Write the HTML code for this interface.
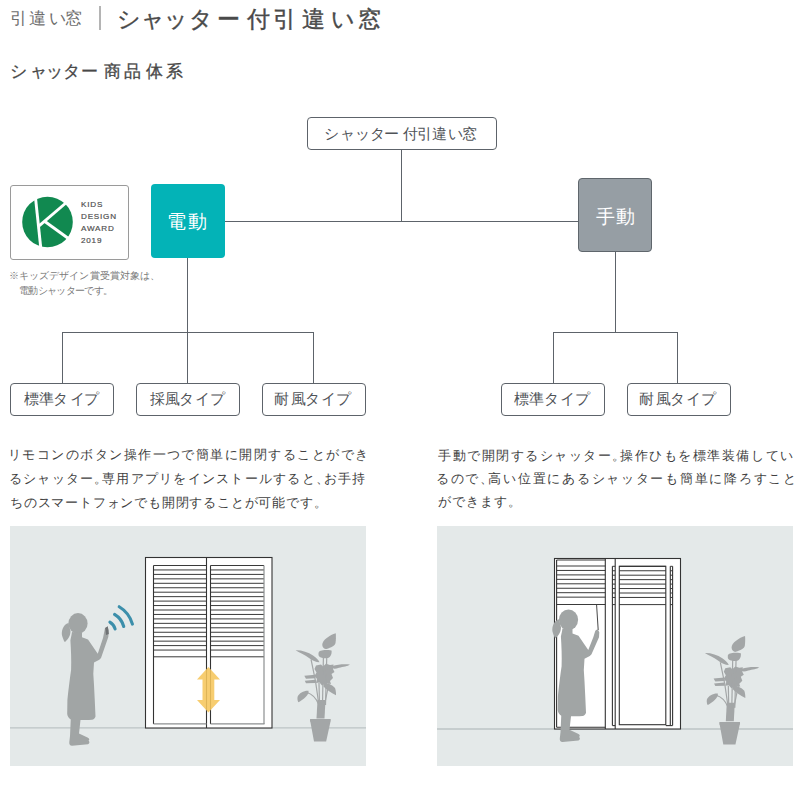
<!DOCTYPE html>
<html><head><meta charset="utf-8">
<style>
html,body{margin:0;padding:0;background:#fff;}
body{width:800px;height:800px;position:relative;overflow:hidden;font-family:"Liberation Sans",sans-serif;color:#4a4a4a;}
.a{position:absolute;white-space:nowrap;line-height:1;}
.box{position:absolute;box-sizing:border-box;border:1.3px solid #5d636a;border-radius:4px;background:#fff;}
.ln{position:absolute;background:#5d636a;}
.lb{position:absolute;left:0;line-height:1;color:#4f5358;white-space:nowrap;}
.lbl{position:absolute;font-size:15px;line-height:1;color:#4f5358;white-space:nowrap;}
.nt{position:absolute;font-size:9.5px;line-height:1;color:#7a7a7a;white-space:nowrap;}
.pl{position:absolute;font-size:13px;line-height:1;color:#3f3f3f;white-space:nowrap;}
.para{position:absolute;font-size:14px;line-height:24px;color:#4a4a4a;white-space:nowrap;}
</style></head>
<body>
<!-- header -->
<div id="h1" style="position:absolute;left:0;top:9.5px;font-size:17px;line-height:1;color:#6e6e6e;"><span style="position:absolute;left:9.6px">引</span><span style="position:absolute;left:29.4px">違</span><span style="position:absolute;left:49.0px">い</span><span style="position:absolute;left:64.6px">窓</span></div>
<div class="ln" style="left:99px;top:6px;width:1.8px;height:24px;background:#b4b4b4;"></div>
<div id="h2" style="position:absolute;left:0;top:9.3px;font-size:22.5px;line-height:1;color:#4a4a4a;-webkit-text-stroke:0.4px #4a4a4a;"><span style="position:absolute;left:117.4px">シ</span><span style="position:absolute;left:140.9px">ャ</span><span style="position:absolute;left:163.5px">ッ</span><span style="position:absolute;left:189.0px">タ</span><span style="position:absolute;left:217.0px">ー</span><span style="position:absolute;left:246.8px">付</span><span style="position:absolute;left:272.8px">引</span><span style="position:absolute;left:301.8px">違</span><span style="position:absolute;left:330.5px">い</span><span style="position:absolute;left:357.8px">窓</span></div>
<div id="h3" style="position:absolute;left:0;top:63px;font-size:17px;line-height:1;color:#484848;-webkit-text-stroke:0.3px #484848;"><span style="position:absolute;left:9.9px">シ</span><span style="position:absolute;left:29.9px">ャ</span><span style="position:absolute;left:46.4px">ッ</span><span style="position:absolute;left:63.0px">タ</span><span style="position:absolute;left:80.9px">ー</span><span style="position:absolute;left:104.4px">商</span><span style="position:absolute;left:124.0px">品</span><span style="position:absolute;left:145.6px">体</span><span style="position:absolute;left:165.6px">系</span></div>

<!-- chart lines -->
<div class="ln" style="left:401px;top:149px;width:1.2px;height:73px;"></div>
<div class="ln" style="left:225px;top:220.6px;width:353px;height:1.2px;"></div>
<div class="ln" style="left:187px;top:258px;width:1.2px;height:125px;"></div>
<div class="ln" style="left:62px;top:332px;width:252px;height:1.2px;"></div>
<div class="ln" style="left:62px;top:332px;width:1.2px;height:51px;"></div>
<div class="ln" style="left:313px;top:332px;width:1.2px;height:51px;"></div>
<div class="ln" style="left:615px;top:252px;width:1.2px;height:81px;"></div>
<div class="ln" style="left:552.5px;top:332px;width:125.5px;height:1.2px;"></div>
<div class="ln" style="left:552.5px;top:332px;width:1.2px;height:51px;"></div>
<div class="ln" style="left:677px;top:332px;width:1.2px;height:51px;"></div>

<!-- top box -->
<div class="box" style="left:306.5px;top:116.5px;width:190.5px;height:33px;"></div>

<!-- electric -->
<div style="position:absolute;left:151px;top:184px;width:74px;height:74px;border-radius:4px;background:#03b3b7;"></div>
<!-- manual -->
<div style="position:absolute;box-sizing:border-box;left:578px;top:178px;width:74px;height:74px;border-radius:4px;background:#969ea4;border:1.2px solid #5f666c;"></div>

<!-- bottom boxes -->
<div class="box" style="left:10px;top:382.5px;width:104px;height:33px;"></div>
<div class="box" style="left:135.5px;top:382.5px;width:104px;height:33px;"></div>
<div class="box" style="left:261.5px;top:382.5px;width:104px;height:33px;"></div>
<div class="box" style="left:500.5px;top:382.5px;width:104px;height:33px;"></div>
<div class="box" style="left:626.5px;top:382.5px;width:104px;height:33px;"></div>

<div class="lb" style="top:126.5px;font-size:14.5px"><span style="position:absolute;left:324.0px">シ</span><span style="position:absolute;left:339.5px">ャ</span><span style="position:absolute;left:354.5px">ッ</span><span style="position:absolute;left:369.5px">タ</span><span style="position:absolute;left:383.5px">ー</span><span style="position:absolute;left:402.5px">付</span><span style="position:absolute;left:417.0px">引</span><span style="position:absolute;left:432.0px">違</span><span style="position:absolute;left:448.0px">い</span><span style="position:absolute;left:462.0px">窓</span></div>
<div class="lb" style="top:391.3px;font-size:15px"><span style="position:absolute;left:23.9px">標</span><span style="position:absolute;left:39.1px">準</span><span style="position:absolute;left:53.4px">タ</span><span style="position:absolute;left:69.8px">イ</span><span style="position:absolute;left:84.2px">プ</span></div>
<div class="lb" style="top:391.3px;font-size:15px"><span style="position:absolute;left:149.5px">採</span><span style="position:absolute;left:164.7px">風</span><span style="position:absolute;left:179.0px">タ</span><span style="position:absolute;left:195.3px">イ</span><span style="position:absolute;left:209.8px">プ</span></div>
<div class="lb" style="top:391.3px;font-size:15px"><span style="position:absolute;left:274.3px">耐</span><span style="position:absolute;left:290.5px">風</span><span style="position:absolute;left:304.8px">タ</span><span style="position:absolute;left:321.1px">イ</span><span style="position:absolute;left:335.6px">プ</span></div>
<div class="lb" style="top:391.3px;font-size:15px"><span style="position:absolute;left:514.2px">標</span><span style="position:absolute;left:529.4px">準</span><span style="position:absolute;left:543.7px">タ</span><span style="position:absolute;left:560.0px">イ</span><span style="position:absolute;left:574.5px">プ</span></div>
<div class="lb" style="top:391.3px;font-size:15px"><span style="position:absolute;left:639.4px">耐</span><span style="position:absolute;left:655.6px">風</span><span style="position:absolute;left:669.9px">タ</span><span style="position:absolute;left:686.2px">イ</span><span style="position:absolute;left:700.8px">プ</span></div>
<div class="lb" style="top:212.6px;font-size:18.5px;color:#fff"><span style="position:absolute;left:166.9px">電</span><span style="position:absolute;left:187.8px">動</span></div>
<div class="lb" style="top:207.9px;font-size:18.5px;color:#fff"><span style="position:absolute;left:595.8px">手</span><span style="position:absolute;left:615.8px">動</span></div>
<!-- award -->
<div style="position:absolute;box-sizing:border-box;left:9.5px;top:185px;width:119px;height:74.5px;border:1px solid #9a9a9a;border-radius:3px;"></div>
<svg style="position:absolute;left:0;top:0" width="140" height="270" viewBox="0 0 140 270">
<circle cx="47.5" cy="222" r="25.3" fill="#118950"/>
<g stroke="#fff" stroke-width="2.9" fill="none">
<line x1="34.9" y1="192" x2="41.2" y2="252"/>
<line x1="38.5" y1="226.4" x2="74" y2="196"/>
<line x1="44.5" y1="221.2" x2="75" y2="243.2"/>
</g>
<g font-family="Liberation Sans" font-size="8.1" fill="#505050" stroke="#505050" stroke-width="0.2" letter-spacing="0.8">
<text x="81" y="207">KIDS</text>
<text x="81" y="219">DESIGN</text>
<text x="81" y="231">AWARD</text>
<text x="81" y="242.6">2019</text>
</g>
</svg>

<div class="nt" style="left:9px;top:271px;letter-spacing:0.071px">※キッズデザイン賞受賞対象は<span style="margin-right:-4.75px">、</span></div>
<div class="nt" style="left:19px;top:285.5px;letter-spacing:-0.667px">電動シャッターです<span style="margin-right:-4.75px">。</span></div>
<!-- paragraphs -->
<div class="pl" style="left:8px;top:448px;letter-spacing:1.458px">リモコンのボタン操作一つで簡単に開閉することができ</div>
<div class="pl" style="left:9px;top:472px;letter-spacing:1.24px">るシャッター<span style="margin-right:-6.50px">。</span>専用アプリをインストールすると<span style="margin-right:-6.50px">、</span>お手持</div>
<div class="pl" style="left:10px;top:496px;letter-spacing:0.795px">ちのスマートフォンでも開閉することが可能です<span style="margin-right:-6.50px">。</span></div>
<div class="pl" style="left:438.0px;top:449px;letter-spacing:1.521px">手動で開閉するシャッター<span style="margin-right:-6.50px">。</span>操作ひもを標準装備してい</div>
<div class="pl" style="left:436.0px;top:472px;letter-spacing:1.729px">るので<span style="margin-right:-6.50px">、</span>高い位置にあるシャッターも簡単に降ろすこと</div>
<div class="pl" style="left:438.0px;top:495px;letter-spacing:0.9px">ができます<span style="margin-right:-6.50px">。</span></div>

<!-- panels -->
<div style="position:absolute;left:10px;top:525.5px;width:356px;height:240px;background:#e4e9e9;"></div>
<div style="position:absolute;left:437px;top:525.5px;width:356px;height:240px;background:#e4e9e9;"></div>

<!-- illus -->
<svg style="position:absolute;left:0;top:0" width="800" height="800" viewBox="0 0 800 800">
<line x1="10" y1="727.8" x2="366" y2="727.8" stroke="#bcc3c5" stroke-width="1.3"/>
<line x1="437" y1="729" x2="793" y2="729" stroke="#bcc3c5" stroke-width="1.3"/>
<rect x="145.5" y="557.5" width="126.5" height="170.5" fill="#fff" stroke="#333" stroke-width="1.1"/>
<g stroke="#3a3a3a" stroke-width="1"><line x1="153.5" y1="565.50" x2="206.5" y2="565.50"/><line x1="210.5" y1="565.50" x2="264" y2="565.50"/><line x1="153.5" y1="569.95" x2="206.5" y2="569.95"/><line x1="210.5" y1="569.95" x2="264" y2="569.95"/><line x1="153.5" y1="574.40" x2="206.5" y2="574.40"/><line x1="210.5" y1="574.40" x2="264" y2="574.40"/><line x1="153.5" y1="578.85" x2="206.5" y2="578.85"/><line x1="210.5" y1="578.85" x2="264" y2="578.85"/><line x1="153.5" y1="583.30" x2="206.5" y2="583.30"/><line x1="210.5" y1="583.30" x2="264" y2="583.30"/><line x1="153.5" y1="587.75" x2="206.5" y2="587.75"/><line x1="210.5" y1="587.75" x2="264" y2="587.75"/><line x1="153.5" y1="592.20" x2="206.5" y2="592.20"/><line x1="210.5" y1="592.20" x2="264" y2="592.20"/><line x1="153.5" y1="596.65" x2="206.5" y2="596.65"/><line x1="210.5" y1="596.65" x2="264" y2="596.65"/><line x1="153.5" y1="601.10" x2="206.5" y2="601.10"/><line x1="210.5" y1="601.10" x2="264" y2="601.10"/><line x1="153.5" y1="605.55" x2="206.5" y2="605.55"/><line x1="210.5" y1="605.55" x2="264" y2="605.55"/><line x1="153.5" y1="610.00" x2="206.5" y2="610.00"/><line x1="210.5" y1="610.00" x2="264" y2="610.00"/><line x1="153.5" y1="614.45" x2="206.5" y2="614.45"/><line x1="210.5" y1="614.45" x2="264" y2="614.45"/><line x1="153.5" y1="618.90" x2="206.5" y2="618.90"/><line x1="210.5" y1="618.90" x2="264" y2="618.90"/><line x1="153.5" y1="623.35" x2="206.5" y2="623.35"/><line x1="210.5" y1="623.35" x2="264" y2="623.35"/><line x1="153.5" y1="627.80" x2="206.5" y2="627.80"/><line x1="210.5" y1="627.80" x2="264" y2="627.80"/><line x1="153.5" y1="632.25" x2="206.5" y2="632.25"/><line x1="210.5" y1="632.25" x2="264" y2="632.25"/><line x1="153.5" y1="636.70" x2="206.5" y2="636.70"/><line x1="210.5" y1="636.70" x2="264" y2="636.70"/><line x1="153.5" y1="641.15" x2="206.5" y2="641.15"/><line x1="210.5" y1="641.15" x2="264" y2="641.15"/><line x1="153.5" y1="645.60" x2="206.5" y2="645.60"/><line x1="210.5" y1="645.60" x2="264" y2="645.60"/><line x1="153.5" y1="650.05" x2="206.5" y2="650.05"/><line x1="210.5" y1="650.05" x2="264" y2="650.05"/><line x1="153.5" y1="656.80" x2="206.5" y2="656.80"/><line x1="210.5" y1="656.80" x2="264" y2="656.80"/></g>
<g stroke="#333" stroke-width="1.1"><line x1="153.5" y1="565.5" x2="153.5" y2="724"/><line x1="206.5" y1="557.5" x2="206.5" y2="728"/><line x1="210.5" y1="565.5" x2="210.5" y2="724"/></g>
<g stroke="#8c8f90" stroke-width="1.2"><line x1="153.5" y1="723.8" x2="206.5" y2="723.8"/><line x1="210.5" y1="723.8" x2="264.5" y2="723.8"/><line x1="264" y1="565.5" x2="264" y2="724"/></g>
<polygon fill="#f6c65c" fill-opacity="0.88" points="208.4,667 220,679.5 214.3,679.5 214.3,700 220,700 208.4,712.5 197,700 202.5,700 202.5,679.5 197,679.5"/>
<g stroke="#3c8fab" stroke-width="3.1" fill="none" stroke-linecap="round"><path d="M109.92 622.14 A11.5 11.5 0 0 1 115.08 628.93"/><path d="M114.56 614.43 A20.5 20.5 0 0 1 123.75 626.52"/><path d="M119.19 606.71 A29.5 29.5 0 0 1 132.43 624.12"/></g>
<g fill="#a1a5a5">
<ellipse cx="78" cy="623.5" rx="9.6" ry="10.4"/>
<path d="M68.5 623 C63 624.5 60.5 632 62.5 637 C63.5 640 64.5 642 65 642 C67 640 70.5 637 70.5 631 Z"/>
<path d="M72 632 L82 633 L82 637.3 L88 639.5 L97.75 653.75 L103 638 L105 628 L107.5 626.5 L108.8 630 L108.3 637 L101 658 L99.3 659.8 L94 662.5 L93.3 673.75 L94 685 L94.75 700 L95.5 716.5 C95 718.5 93.5 719.5 92 719.7 C88 720 84 720 80.5 720 L79 733.5 L87.5 737.5 C89.5 738.2 89.8 740 88.5 740.8 C89.8 741.5 89.8 743.8 88 744.3 L72 745.8 C70 745.8 69 744 69.3 742 L70 736 L70.75 719.5 C69 718.5 67.5 716.5 67.2 714 L67.4 700 C68.5 690 70 677 71.1 670 C71.5 660 71 650 70.4 640.3 L71.5 635 Z"/>
</g>
<g id="phone"><polygon fill="#6f7274" points="105.2,628 107.8,626.3 108.8,634 106,635"/></g>
<g fill="#a3a6a7">
<path d="M335.75 633.25 C330 635 322 640 322.25 645 C322.5 648 325 649.5 326.5 649 C331 647.5 335 646 335.5 643 C336 640 336 636 335.75 633.25 Z"/>
<path d="M318.5 653 C319 650 325 649.5 331.5 650.5 C332 653 331 657 328 658 C324 658.5 319 658 318.5 655 Z"/>
<path d="M295.6 650.3 C301 650 308 652 313 655.5 C316.5 658 318.5 660 319.5 662.3 C316 662.3 312 660.5 309 658 C305 655 299 652.5 295.6 650.3 Z"/>
<path d="M332.5 666 C338 664.3 344 663.8 350 664.5 C348 666.3 343 666.8 339 667.8 C336 668.8 334 668.8 332.5 668.3 Z"/>
<path d="M316 665.5 L321 664.5 L323 666.5 L326 663.8 L330 665 L333.5 664.5 L333 669 L334.5 672 L331.5 674 L333 678 L330 681 L331 684 L326 683 L322 685.5 L319.5 682.5 L316 683 L317 679 L314.5 676 L316.5 672.5 L314.5 669 Z"/>
<path d="M304.3 675.8 L315 674.8 L315.5 678.3 L306 678.8 Z"/>
<path d="M304.8 680.8 L315 679.8 L315.5 683 L306 683.3 Z"/>
<path d="M323.5 682.5 C328 683 332 684.5 335 688 C336.2 691 336 695.3 336 695.3 C331 692.5 326 689.5 323.5 686.5 Z"/>
<path d="M308.5 690.8 C304 690.5 299 693 297.5 697 C297.2 700 298 702.2 298.5 702.2 C302 700.5 306.5 697 308.5 693 Z"/>
<path d="M317.5 700 L325.5 700 L324.5 718.5 L316.5 718.5 Z"/>
<path d="M310.1 719.1 L330.65 719.1 C330.9 720.5 330.7 722 330.3 722.5 L326.15 741.6 L314 741.6 L310.5 722.5 C310 722 309.9 720.5 310.1 719.1 Z"/>
</g>
<g stroke="#a3a6a7" stroke-width="1.2" fill="none">
<line x1="323.4" y1="657" x2="322.5" y2="705"/><line x1="326.75" y1="657" x2="325.5" y2="705"/>
<path d="M311 659.5 C313 668 316 680 318.5 702"/><path d="M307 692.5 C312 694 316 698 318.5 704"/>
<line x1="319" y1="683" x2="319.5" y2="705"/><line x1="329" y1="683" x2="324.5" y2="705"/>
</g>
<rect x="554.5" y="558.5" width="126" height="170.5" fill="#fff" stroke="#333" stroke-width="1.1"/>
<g stroke="#3a3a3a" stroke-width="1"><line x1="556.6" y1="560.00" x2="605.3" y2="560.00"/><line x1="556.6" y1="566.00" x2="605.3" y2="566.00"/><line x1="556.6" y1="570.45" x2="605.3" y2="570.45"/><line x1="556.6" y1="574.90" x2="605.3" y2="574.90"/><line x1="556.6" y1="579.35" x2="605.3" y2="579.35"/><line x1="556.6" y1="583.80" x2="605.3" y2="583.80"/><line x1="556.6" y1="588.25" x2="605.3" y2="588.25"/><line x1="556.6" y1="592.70" x2="605.3" y2="592.70"/><line x1="556.6" y1="597.15" x2="605.3" y2="597.15"/><line x1="556.6" y1="604.50" x2="605.3" y2="604.50"/><line x1="612.4" y1="566.30" x2="615.2" y2="566.30"/><line x1="619.3" y1="566.30" x2="665.8" y2="566.30"/><line x1="670.3" y1="566.30" x2="672.6" y2="566.30"/><line x1="612.4" y1="570.75" x2="615.2" y2="570.75"/><line x1="619.3" y1="570.75" x2="665.8" y2="570.75"/><line x1="670.3" y1="570.75" x2="672.6" y2="570.75"/><line x1="612.4" y1="575.20" x2="615.2" y2="575.20"/><line x1="619.3" y1="575.20" x2="665.8" y2="575.20"/><line x1="670.3" y1="575.20" x2="672.6" y2="575.20"/><line x1="612.4" y1="579.65" x2="615.2" y2="579.65"/><line x1="619.3" y1="579.65" x2="665.8" y2="579.65"/><line x1="670.3" y1="579.65" x2="672.6" y2="579.65"/><line x1="612.4" y1="584.10" x2="615.2" y2="584.10"/><line x1="619.3" y1="584.10" x2="665.8" y2="584.10"/><line x1="670.3" y1="584.10" x2="672.6" y2="584.10"/><line x1="612.4" y1="588.55" x2="615.2" y2="588.55"/><line x1="619.3" y1="588.55" x2="665.8" y2="588.55"/><line x1="670.3" y1="588.55" x2="672.6" y2="588.55"/><line x1="612.4" y1="593.00" x2="615.2" y2="593.00"/><line x1="619.3" y1="593.00" x2="665.8" y2="593.00"/><line x1="670.3" y1="593.00" x2="672.6" y2="593.00"/><line x1="612.4" y1="597.45" x2="615.2" y2="597.45"/><line x1="619.3" y1="597.45" x2="665.8" y2="597.45"/><line x1="670.3" y1="597.45" x2="672.6" y2="597.45"/><line x1="612.4" y1="604.60" x2="615.2" y2="604.60"/><line x1="619.3" y1="604.60" x2="665.8" y2="604.60"/><line x1="670.3" y1="604.60" x2="672.6" y2="604.60"/></g>
<g stroke="#333" stroke-width="1.1" fill="none"><line x1="556.6" y1="560" x2="556.6" y2="727.2"/><line x1="556.6" y1="727.2" x2="605.3" y2="727.2"/><line x1="605.3" y1="558.5" x2="605.3" y2="729"/><line x1="615.2" y1="558.5" x2="615.2" y2="729"/><line x1="612.4" y1="566.3" x2="612.4" y2="725.6"/><line x1="612.4" y1="725.6" x2="615.2" y2="725.6"/><rect x="619.3" y="566.3" width="46.5" height="158.4"/><line x1="670.3" y1="566.3" x2="670.3" y2="725.6"/><line x1="672.6" y1="566.3" x2="672.6" y2="725.6"/><line x1="665.8" y1="725.6" x2="672.6" y2="725.6"/><line x1="596.6" y1="605" x2="598.2" y2="630" stroke-width="0.9"/></g>
<g transform="translate(490.5,-3.7)"><g fill="#a1a5a5">
<ellipse cx="78" cy="623.5" rx="9.6" ry="10.4"/>
<path d="M68.5 623 C63 624.5 60.5 632 62.5 637 C63.5 640 64.5 642 65 642 C67 640 70.5 637 70.5 631 Z"/>
<path d="M72 632 L82 633 L82 637.3 L88 639.5 L97.75 653.75 L102.8 641 L104.8 634.5 L107.2 632.8 L108.8 636 L108.5 641 L101 658 L99.3 659.8 L94 662.5 L93.3 673.75 L94 685 L94.75 700 L95.5 716.5 C95 718.5 93.5 719.5 92 719.7 C88 720 84 720 80.5 720 L79 733.5 L87.5 737.5 C89.5 738.2 89.8 740 88.5 740.8 C89.8 741.5 89.8 743.8 88 744.3 L72 745.8 C70 745.8 69 744 69.3 742 L70 736 L70.75 719.5 C69 718.5 67.5 716.5 67.2 714 L67.4 700 C68.5 690 70 677 71.1 670 C71.5 660 71 650 70.4 640.3 L71.5 635 Z"/>
</g></g>
<g transform="translate(409.3,2.8)"><g fill="#a3a6a7">
<path d="M335.75 633.25 C330 635 322 640 322.25 645 C322.5 648 325 649.5 326.5 649 C331 647.5 335 646 335.5 643 C336 640 336 636 335.75 633.25 Z"/>
<path d="M318.5 653 C319 650 325 649.5 331.5 650.5 C332 653 331 657 328 658 C324 658.5 319 658 318.5 655 Z"/>
<path d="M295.6 650.3 C301 650 308 652 313 655.5 C316.5 658 318.5 660 319.5 662.3 C316 662.3 312 660.5 309 658 C305 655 299 652.5 295.6 650.3 Z"/>
<path d="M332.5 666 C338 664.3 344 663.8 350 664.5 C348 666.3 343 666.8 339 667.8 C336 668.8 334 668.8 332.5 668.3 Z"/>
<path d="M316 665.5 L321 664.5 L323 666.5 L326 663.8 L330 665 L333.5 664.5 L333 669 L334.5 672 L331.5 674 L333 678 L330 681 L331 684 L326 683 L322 685.5 L319.5 682.5 L316 683 L317 679 L314.5 676 L316.5 672.5 L314.5 669 Z"/>
<path d="M304.3 675.8 L315 674.8 L315.5 678.3 L306 678.8 Z"/>
<path d="M304.8 680.8 L315 679.8 L315.5 683 L306 683.3 Z"/>
<path d="M323.5 682.5 C328 683 332 684.5 335 688 C336.2 691 336 695.3 336 695.3 C331 692.5 326 689.5 323.5 686.5 Z"/>
<path d="M308.5 690.8 C304 690.5 299 693 297.5 697 C297.2 700 298 702.2 298.5 702.2 C302 700.5 306.5 697 308.5 693 Z"/>
<path d="M317.5 700 L325.5 700 L324.5 718.5 L316.5 718.5 Z"/>
<path d="M310.1 719.1 L330.65 719.1 C330.9 720.5 330.7 722 330.3 722.5 L326.15 741.6 L314 741.6 L310.5 722.5 C310 722 309.9 720.5 310.1 719.1 Z"/>
</g>
<g stroke="#a3a6a7" stroke-width="1.2" fill="none">
<line x1="323.4" y1="657" x2="322.5" y2="705"/><line x1="326.75" y1="657" x2="325.5" y2="705"/>
<path d="M311 659.5 C313 668 316 680 318.5 702"/><path d="M307 692.5 C312 694 316 698 318.5 704"/>
<line x1="319" y1="683" x2="319.5" y2="705"/><line x1="329" y1="683" x2="324.5" y2="705"/>
</g></g>
</svg>
</body></html>
